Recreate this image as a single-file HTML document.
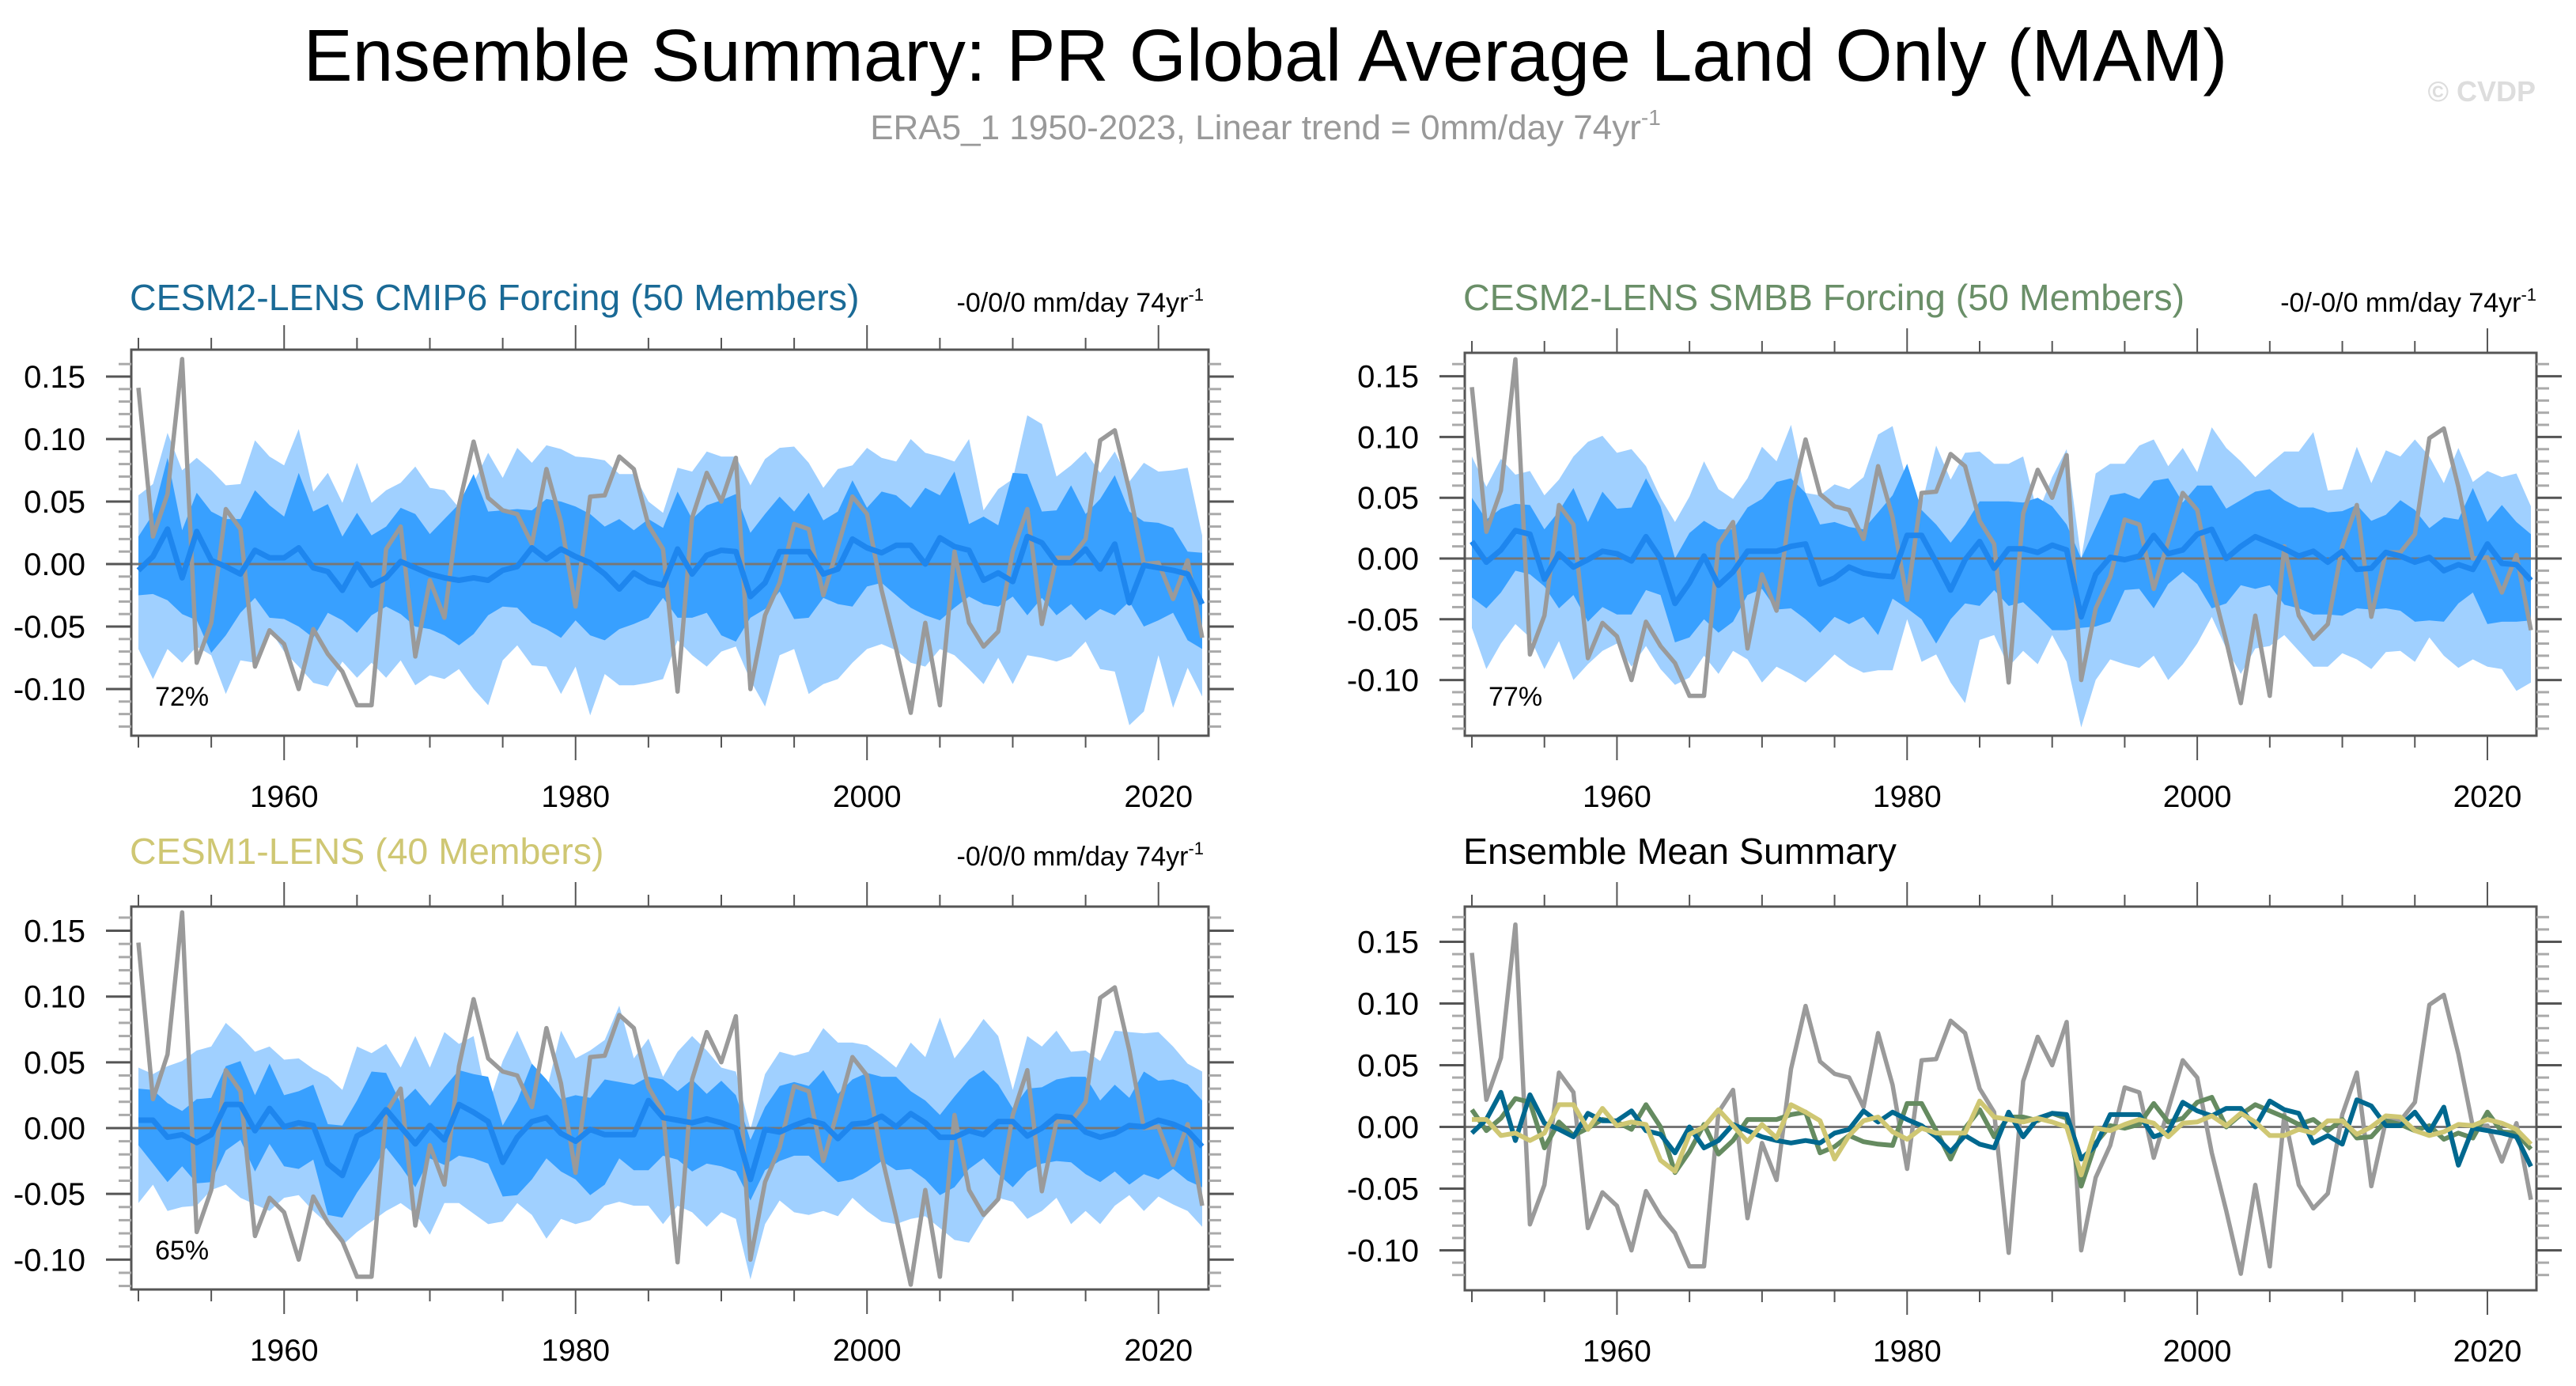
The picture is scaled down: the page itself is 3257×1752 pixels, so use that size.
<!DOCTYPE html>
<html><head><meta charset="utf-8"><style>
html,body{margin:0;padding:0;background:#fff;}
svg{display:block;font-family:"Liberation Sans",sans-serif;}
</style></head><body>
<svg id="chart" width="3257" height="1752" viewBox="0 0 3257 1752" xmlns="http://www.w3.org/2000/svg">
<text x="1600" y="102" font-size="93" text-anchor="middle" fill="#000">Ensemble Summary: PR Global Average Land Only (MAM)</text>
<text x="1600" y="176" font-size="44" text-anchor="middle" fill="#999">ERA5_1 1950-2023, Linear trend = 0mm/day 74yr<tspan font-size="28" dy="-18">-1</tspan></text>
<text x="3206" y="128" font-size="36" font-weight="bold" text-anchor="end" fill="#ddd">© CVDP</text>

<text x="164" y="392" font-size="46.5" fill="#1a6a96">CESM2-LENS CMIP6 Forcing (50 Members)</text>
<text x="1522" y="394" font-size="34" text-anchor="end" fill="#000">-0/0/0 mm/day 74yr<tspan font-size="22" dy="-14">-1</tspan></text>
<text x="1850" y="392" font-size="46.5" fill="#6a8f68">CESM2-LENS SMBB Forcing (50 Members)</text>
<text x="3207" y="394" font-size="34" text-anchor="end" fill="#000">-0/-0/0 mm/day 74yr<tspan font-size="22" dy="-14">-1</tspan></text>
<text x="164" y="1092" font-size="46.5" fill="#cfc773">CESM1-LENS (40 Members)</text>
<text x="1522" y="1094" font-size="34" text-anchor="end" fill="#000">-0/0/0 mm/day 74yr<tspan font-size="22" dy="-14">-1</tspan></text>
<text x="1850" y="1092" font-size="46.5" fill="#000">Ensemble Mean Summary</text>
<g id="panels"></g>
</svg>
<script>
const years = [];
for (let y = 1950; y <= 2023; y++) years.push(y);
const xTickLabels = [1960, 1980, 2000, 2020];
const yTickLabels = [0.15, 0.10, 0.05, 0.00, -0.05, -0.10];

const obs = [0.141,0.022,0.056,0.164,-0.079,-0.047,0.044,0.028,-0.082,-0.053,-0.064,-0.100,-0.052,-0.072,-0.086,-0.113,-0.113,0.012,0.030,-0.074,-0.013,-0.043,0.047,0.098,0.053,0.043,0.040,0.016,0.076,0.034,-0.034,0.054,0.055,0.086,0.076,0.031,0.012,-0.102,0.037,0.073,0.050,0.085,-0.100,-0.041,-0.015,0.032,0.028,-0.025,0.014,0.054,0.040,-0.021,-0.068,-0.119,-0.047,-0.113,0.010,-0.047,-0.066,-0.054,0.010,0.044,-0.048,0.005,0.005,0.020,0.099,0.107,0.059,0.000,0.001,-0.028,0.003,-0.059];

const mean1 = [-0.005,0.006,0.028,-0.011,0.026,0.003,-0.002,-0.008,0.011,0.005,0.005,0.013,-0.003,-0.006,-0.021,0.000,-0.017,-0.011,0.002,-0.003,-0.008,-0.011,-0.013,-0.011,-0.013,-0.005,-0.002,0.013,0.004,0.012,0.006,0.001,-0.008,-0.020,-0.007,-0.014,-0.017,0.012,-0.008,0.007,0.011,0.010,-0.026,-0.015,0.010,0.010,0.010,-0.008,-0.004,0.020,0.013,0.009,0.015,0.015,0.000,0.021,0.014,0.011,-0.013,-0.007,-0.014,0.022,0.017,0.001,0.001,0.012,-0.004,0.016,-0.031,-0.001,-0.003,-0.005,-0.008,-0.032];
const lightHi1 = [0.055,0.064,0.105,0.075,0.085,0.075,0.063,0.064,0.099,0.086,0.079,0.108,0.058,0.073,0.049,0.081,0.049,0.059,0.065,0.078,0.061,0.059,0.045,0.065,0.089,0.069,0.093,0.081,0.095,0.092,0.086,0.085,0.083,0.072,0.072,0.050,0.041,0.077,0.074,0.090,0.086,0.086,0.063,0.084,0.093,0.094,0.081,0.061,0.076,0.079,0.093,0.085,0.082,0.100,0.089,0.086,0.082,0.100,0.043,0.060,0.068,0.119,0.112,0.070,0.079,0.090,0.073,0.090,0.066,0.081,0.074,0.075,0.077,0.023];
const lightLo1 = [-0.068,-0.092,-0.068,-0.079,-0.066,-0.073,-0.104,-0.077,-0.079,-0.052,-0.070,-0.082,-0.095,-0.098,-0.078,-0.091,-0.079,-0.091,-0.077,-0.097,-0.089,-0.092,-0.084,-0.100,-0.113,-0.077,-0.065,-0.081,-0.082,-0.104,-0.082,-0.121,-0.088,-0.097,-0.097,-0.095,-0.092,-0.061,-0.073,-0.082,-0.070,-0.066,-0.093,-0.114,-0.073,-0.068,-0.104,-0.096,-0.092,-0.079,-0.068,-0.064,-0.069,-0.079,-0.082,-0.068,-0.073,-0.084,-0.096,-0.075,-0.096,-0.073,-0.075,-0.078,-0.074,-0.062,-0.084,-0.086,-0.129,-0.118,-0.073,-0.115,-0.083,-0.106];
const darkHi1 = [0.022,0.040,0.085,0.027,0.057,0.042,0.036,0.036,0.059,0.047,0.038,0.073,0.042,0.048,0.022,0.041,0.023,0.030,0.045,0.040,0.024,0.036,0.048,0.072,0.042,0.043,0.044,0.043,0.052,0.050,0.046,0.040,0.030,0.036,0.027,0.036,0.029,0.058,0.036,0.047,0.051,0.056,0.025,0.040,0.054,0.042,0.057,0.035,0.042,0.067,0.045,0.058,0.055,0.045,0.061,0.055,0.074,0.032,0.038,0.031,0.073,0.072,0.042,0.043,0.063,0.040,0.052,0.071,0.042,0.034,0.033,0.029,0.010,0.009];
const darkLo1 = [-0.025,-0.024,-0.029,-0.040,-0.045,-0.071,-0.057,-0.039,-0.027,-0.043,-0.044,-0.050,-0.059,-0.039,-0.045,-0.055,-0.041,-0.034,-0.040,-0.050,-0.052,-0.057,-0.065,-0.056,-0.041,-0.034,-0.035,-0.047,-0.052,-0.059,-0.045,-0.057,-0.061,-0.052,-0.048,-0.043,-0.027,-0.043,-0.043,-0.039,-0.057,-0.062,-0.043,-0.036,-0.022,-0.044,-0.043,-0.027,-0.032,-0.034,-0.018,-0.015,-0.025,-0.035,-0.041,-0.045,-0.035,-0.026,-0.032,-0.034,-0.026,-0.041,-0.027,-0.041,-0.032,-0.045,-0.036,-0.041,-0.030,-0.050,-0.045,-0.039,-0.061,-0.068];

const mean2 = [0.014,-0.003,0.007,0.023,0.020,-0.017,0.004,-0.007,-0.001,0.006,0.004,-0.002,0.018,0.000,-0.037,-0.020,0.002,-0.022,-0.011,0.006,0.006,0.006,0.010,0.012,-0.021,-0.016,-0.007,-0.012,-0.014,-0.015,0.019,0.019,-0.003,-0.026,-0.001,0.014,-0.008,0.008,0.008,0.005,0.011,0.007,-0.048,-0.013,0.001,-0.001,0.002,0.019,0.004,0.007,0.020,0.024,0.000,0.010,0.018,0.013,0.008,0.002,0.006,-0.003,0.006,-0.009,-0.008,0.005,0.002,-0.003,0.001,-0.010,-0.005,-0.009,0.012,-0.004,-0.005,-0.018];
const lightHi2 = [0.084,0.059,0.082,0.069,0.072,0.052,0.065,0.084,0.096,0.101,0.087,0.090,0.076,0.050,0.030,0.051,0.080,0.057,0.049,0.066,0.092,0.080,0.110,0.054,0.052,0.061,0.057,0.067,0.102,0.109,0.062,0.044,0.093,0.065,0.087,0.088,0.078,0.078,0.084,0.037,0.067,0.090,0.000,0.070,0.078,0.078,0.093,0.098,0.076,0.091,0.071,0.108,0.091,0.080,0.067,0.078,0.088,0.088,0.104,0.056,0.057,0.092,0.062,0.089,0.084,0.098,0.084,0.062,0.091,0.063,0.072,0.067,0.070,0.043];
const lightLo2 = [-0.057,-0.091,-0.070,-0.054,-0.065,-0.091,-0.068,-0.100,-0.087,-0.076,-0.070,-0.089,-0.072,-0.091,-0.104,-0.098,-0.080,-0.095,-0.076,-0.083,-0.102,-0.089,-0.095,-0.102,-0.091,-0.079,-0.088,-0.094,-0.092,-0.092,-0.050,-0.085,-0.079,-0.102,-0.119,-0.067,-0.063,-0.089,-0.076,-0.087,-0.063,-0.085,-0.139,-0.100,-0.083,-0.087,-0.090,-0.080,-0.100,-0.087,-0.070,-0.048,-0.074,-0.095,-0.074,-0.072,-0.063,-0.076,-0.089,-0.089,-0.078,-0.083,-0.091,-0.077,-0.076,-0.085,-0.065,-0.080,-0.090,-0.083,-0.089,-0.091,-0.109,-0.102];
const darkHi2 = [0.050,0.032,0.041,0.045,0.044,0.024,0.039,0.058,0.030,0.055,0.041,0.042,0.066,0.043,0.000,0.021,0.031,0.024,0.024,0.042,0.049,0.063,0.066,0.054,0.028,0.030,0.026,0.024,0.038,0.052,0.078,0.040,0.028,0.013,0.028,0.047,0.047,0.047,0.046,0.050,0.043,0.028,0.000,0.026,0.052,0.054,0.049,0.064,0.066,0.046,0.060,0.060,0.041,0.048,0.055,0.057,0.048,0.042,0.042,0.038,0.039,0.044,0.031,0.036,0.048,0.040,0.025,0.034,0.032,0.058,0.030,0.044,0.030,0.020];
const darkLo2 = [-0.032,-0.041,-0.028,-0.010,-0.013,-0.023,-0.041,-0.030,-0.052,-0.040,-0.046,-0.046,-0.026,-0.030,-0.069,-0.065,-0.050,-0.061,-0.052,-0.030,-0.025,-0.042,-0.041,-0.050,-0.061,-0.048,-0.054,-0.048,-0.063,-0.033,-0.041,-0.050,-0.070,-0.050,-0.037,-0.039,-0.026,-0.039,-0.036,-0.047,-0.059,-0.059,-0.057,-0.056,-0.052,-0.026,-0.025,-0.041,-0.021,-0.011,-0.021,-0.041,-0.037,-0.022,-0.025,-0.022,-0.038,-0.041,-0.046,-0.046,-0.047,-0.041,-0.042,-0.041,-0.043,-0.052,-0.051,-0.052,-0.037,-0.028,-0.054,-0.052,-0.052,-0.051];

const mean3 = [0.006,0.006,-0.007,-0.005,-0.011,-0.005,0.018,0.018,-0.002,0.015,0.001,0.004,0.002,-0.027,-0.036,-0.006,0.000,0.014,0.001,-0.012,0.002,-0.009,0.018,0.012,0.005,-0.026,-0.007,0.005,0.008,-0.004,-0.010,-0.001,-0.005,-0.005,-0.005,0.021,0.008,0.006,0.004,0.007,0.004,0.000,-0.039,-0.001,-0.003,0.002,0.006,0.003,-0.008,0.003,0.004,0.009,0.001,0.011,0.004,-0.007,-0.007,-0.002,-0.005,0.005,0.005,-0.006,0.000,0.009,0.008,-0.003,-0.007,-0.004,0.002,0.001,0.006,0.003,-0.002,-0.014];
const lightHi3 = [0.046,0.041,0.047,0.051,0.059,0.062,0.080,0.070,0.058,0.062,0.052,0.053,0.045,0.039,0.029,0.062,0.057,0.064,0.046,0.070,0.046,0.073,0.064,0.070,0.017,0.051,0.074,0.049,0.028,0.074,0.053,0.059,0.067,0.093,0.053,0.068,0.039,0.058,0.070,0.059,0.046,0.043,-0.001,0.041,0.058,0.055,0.058,0.076,0.065,0.065,0.063,0.055,0.046,0.065,0.054,0.084,0.053,0.067,0.083,0.070,0.029,0.070,0.062,0.074,0.058,0.059,0.051,0.074,0.073,0.072,0.073,0.062,0.049,0.043];
const lightLo3 = [-0.057,-0.043,-0.063,-0.060,-0.059,-0.047,-0.043,-0.053,-0.058,-0.063,-0.053,-0.051,-0.063,-0.073,-0.089,-0.079,-0.071,-0.063,-0.057,-0.065,-0.081,-0.057,-0.057,-0.065,-0.073,-0.071,-0.057,-0.066,-0.084,-0.069,-0.073,-0.070,-0.059,-0.056,-0.059,-0.059,-0.073,-0.059,-0.064,-0.075,-0.064,-0.069,-0.115,-0.073,-0.055,-0.064,-0.066,-0.063,-0.067,-0.053,-0.063,-0.071,-0.073,-0.069,-0.067,-0.076,-0.085,-0.087,-0.069,-0.053,-0.056,-0.069,-0.063,-0.053,-0.073,-0.063,-0.073,-0.059,-0.051,-0.063,-0.052,-0.058,-0.063,-0.075];
const darkHi3 = [0.030,0.029,0.019,0.013,0.022,0.023,0.047,0.051,0.025,0.049,0.025,0.028,0.033,0.003,0.002,0.021,0.043,0.042,0.019,0.030,0.017,0.031,0.044,0.041,0.039,0.002,0.021,0.049,0.037,0.022,0.025,0.023,0.037,0.035,0.033,0.039,0.037,0.028,0.037,0.026,0.036,0.025,-0.009,0.016,0.032,0.035,0.032,0.044,0.026,0.037,0.042,0.039,0.039,0.028,0.021,0.010,0.024,0.037,0.044,0.033,0.015,0.030,0.031,0.037,0.039,0.039,0.021,0.033,0.023,0.043,0.036,0.037,0.033,0.021];
const darkLo3 = [-0.013,-0.027,-0.041,-0.029,-0.042,-0.041,-0.017,-0.009,-0.033,-0.012,-0.029,-0.031,-0.024,-0.066,-0.068,-0.049,-0.033,-0.015,-0.029,-0.045,-0.023,-0.028,-0.021,-0.023,-0.027,-0.052,-0.051,-0.039,-0.023,-0.033,-0.039,-0.051,-0.043,-0.023,-0.032,-0.032,-0.021,-0.024,-0.033,-0.027,-0.029,-0.033,-0.055,-0.032,-0.025,-0.021,-0.021,-0.031,-0.041,-0.039,-0.033,-0.025,-0.032,-0.031,-0.039,-0.051,-0.045,-0.031,-0.023,-0.035,-0.045,-0.033,-0.027,-0.025,-0.026,-0.035,-0.041,-0.033,-0.043,-0.035,-0.039,-0.031,-0.040,-0.045];

const percents = ["72%", "77%", "65%"];

const NS = "http://www.w3.org/2000/svg";
const root = document.getElementById("panels");
function mk(tag, attrs, parent) {
  const e = document.createElementNS(NS, tag);
  for (const k in attrs) e.setAttribute(k, attrs[k]);
  (parent || root).appendChild(e);
  return e;
}

function drawPanel(cfg) {
  const g = mk("g", {});
  
  
  const xs = yr => cfg.x0 + (yr - 1950) * (cfg.x1 - cfg.x0) / 73;
  const ys = v => cfg.y0 - v * cfg.k;
  function band(hi, lo, color, nm) {
    let d = "";
    years.forEach((yr, i) => { d += (i ? "L" : "M") + xs(yr).toFixed(1) + "," + ys(hi[i]).toFixed(1); });
    for (let i = years.length - 1; i >= 0; i--) d += "L" + xs(years[i]).toFixed(1) + "," + ys(lo[i]).toFixed(1);
    const p = mk("path", { d: d + "Z", fill: color }, g);
    
    
  }
  function line(vals, color, w, nm) {
    const pts = years.map((yr, i) => xs(yr).toFixed(1) + "," + ys(vals[i]).toFixed(1)).join(" ");
    const p = mk("polyline", { points: pts, fill: "none", stroke: color, "stroke-width": w, "stroke-linejoin": "round" }, g);
    
    
  }
  if (cfg.bands) {
    band(cfg.bands[0], cfg.bands[1], "#a0d0ff", "outer-spread-band");
    band(cfg.bands[2], cfg.bands[3], "#38a0ff", "inner-spread-band");
  }
  const z = mk("line", { x1: cfg.L, x2: cfg.R + 32, y1: ys(0), y2: ys(0), stroke: "#777", "stroke-width": 3 }, g);
  
  
  if (cfg.bands) {
    line(obs, "#9a9a9a", 5.5, "observed-line");
    line(cfg.mean, "#1e86ee", 7, "ensemble-mean-line");
  } else {
    line(obs, "#9a9a9a", 5.5, "observed-line");
    line(mean2, "#658b60", 6, "smbb-mean-line");
    line(mean1, "#00688f", 6, "cmip6-mean-line");
    line(mean3, "#cfc773", 6, "cesm1-mean-line");
  }
  const f = mk("rect", { x: cfg.L, y: cfg.T, width: cfg.R - cfg.L, height: cfg.B - cfg.T, fill: "none", stroke: "#555", "stroke-width": 3 }, g);
  
  
  for (let yr = 1950; yr <= 2020; yr += 5) {
    const major = yr % 20 === 0;
    const len = major ? 31 : 15;
    const x = xs(yr);
    mk("line", { x1: x, x2: x, y1: cfg.T, y2: cfg.T - len, stroke: "#555", "stroke-width": 2 }, g);
    mk("line", { x1: x, x2: x, y1: cfg.B, y2: cfg.B + len, stroke: "#555", "stroke-width": 2 }, g);
  }
  xTickLabels.forEach(yr => {
    const t = mk("text", { x: xs(yr), y: cfg.B + 90, "font-size": 39, "text-anchor": "middle", fill: "#000" }, g);
    t.textContent = yr;
    
    
  });
  for (let i = -14; i <= 17; i++) {
    const v = i / 100;
    const y = ys(v);
    if (y < cfg.T + 4 || y > cfg.B - 4) continue;
    const major = i % 5 === 0;
    const len = major ? 32 : 16;
    mk("line", { x1: cfg.L, x2: cfg.L - len, y1: y, y2: y, stroke: major ? "#555" : "#aaa", "stroke-width": 3 }, g);
    mk("line", { x1: cfg.R, x2: cfg.R + len, y1: y, y2: y, stroke: major ? "#555" : "#aaa", "stroke-width": 3 }, g);
  }
  yTickLabels.forEach(v => {
    const t = mk("text", { x: cfg.L - 58, y: ys(v) + 14, "font-size": 40, "text-anchor": "end", fill: "#000" }, g);
    t.textContent = v.toFixed(2);
    
    
  });
  if (cfg.pct) {
    const t = mk("text", { x: cfg.L + 30, y: cfg.B - 38, "font-size": 34, fill: "#000" }, g);
    t.textContent = cfg.pct;
    
    
  }
}

drawPanel({ name: "cesm2-cmip6-panel", L: 166, R: 1528, T: 442, B: 930, x0: 175, x1: 1520, y0: 713, k: 1580,
  bands: [lightHi1, lightLo1, darkHi1, darkLo1], mean: mean1, pct: percents[0] });
drawPanel({ name: "cesm2-smbb-panel", L: 1852, R: 3207, T: 446, B: 930, x0: 1861, x1: 3200, y0: 706, k: 1536,
  bands: [lightHi2, lightLo2, darkHi2, darkLo2], mean: mean2, pct: percents[1] });
drawPanel({ name: "cesm1-panel", L: 166, R: 1528, T: 1146, B: 1630, x0: 175, x1: 1520, y0: 1426, k: 1663,
  bands: [lightHi3, lightLo3, darkHi3, darkLo3], mean: mean3, pct: percents[2] });
drawPanel({ name: "ensemble-mean-summary-panel", L: 1852, R: 3207, T: 1146, B: 1631, x0: 1861, x1: 3200, y0: 1424.5, k: 1560 });
</script>
</body></html>
